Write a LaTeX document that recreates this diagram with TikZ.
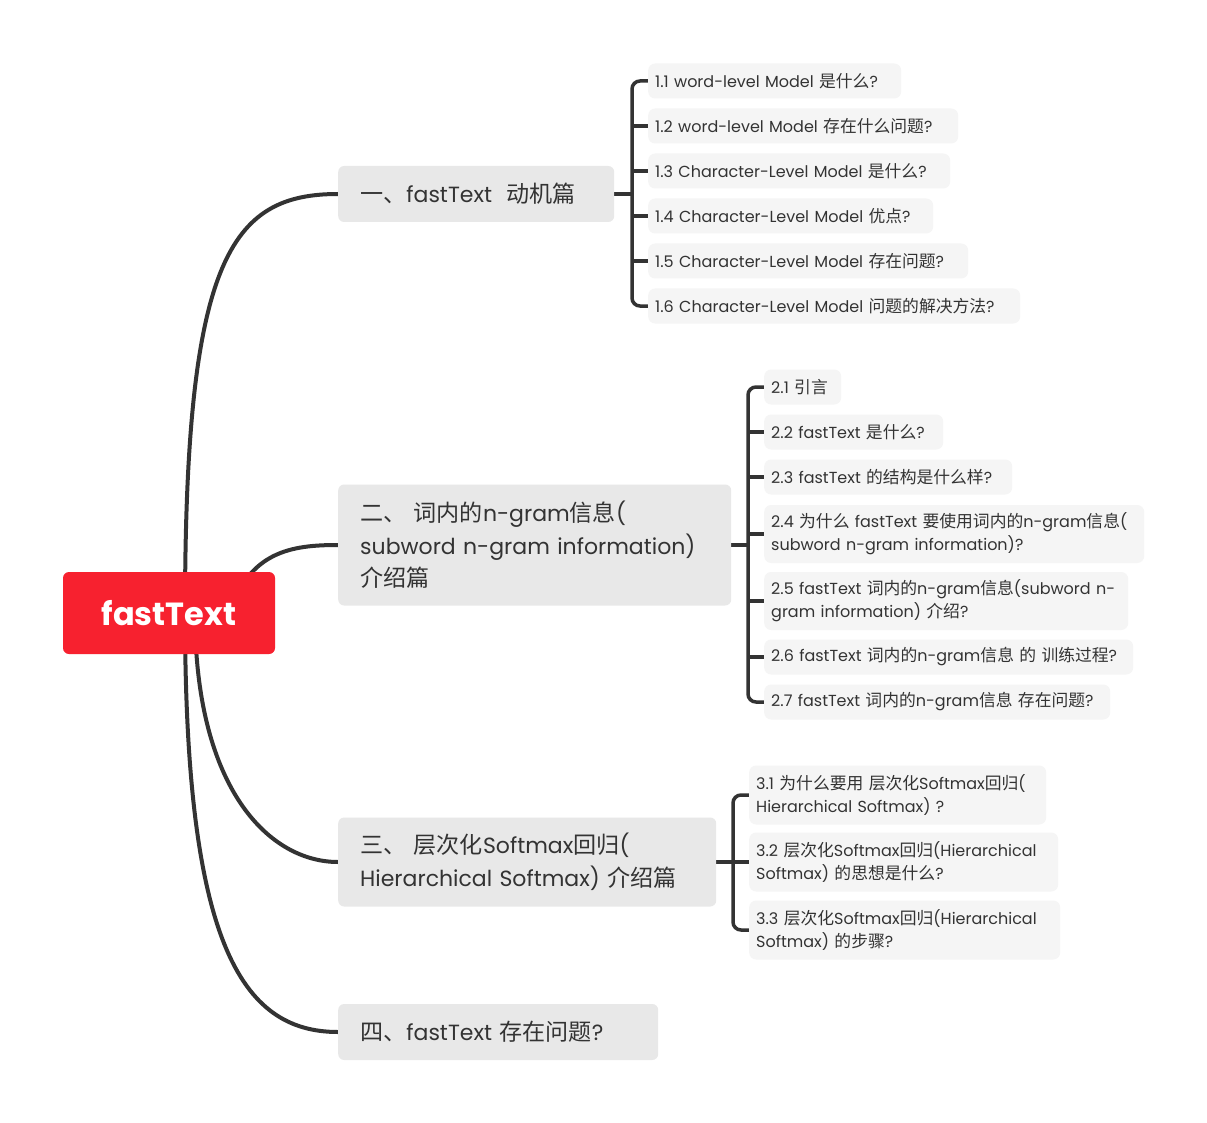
\documentclass[tikz,border=0pt]{standalone}
\usepackage{fontspec}
\setmainfont{Poppins}
\newfontfamily\zhfont[Scale=1.05]{Noto Sans CJK SC}
\newcommand{\zhs}[1]{{\zhfont #1}}
\usetikzlibrary{backgrounds}
\definecolor{rootred}{HTML}{F7212F}
\definecolor{ink}{HTML}{333333}
\definecolor{branchfill}{HTML}{E8E8E8}
\definecolor{leaffill}{HTML}{F5F5F5}
\definecolor{wirecol}{HTML}{333333}
\begin{document}
\begin{tikzpicture}[x=1pt,y=-1pt,
 rootbox/.style={fill=rootred, rounded corners=6pt, text=white, font=\fontsize{32}{38}\selectfont\bfseries, minimum width=212pt, minimum height=82pt, inner sep=0pt},
 branchbox/.style={fill=branchfill, rounded corners=6pt, text=ink, font=\fontsize{22}{32.5}\selectfont, align=left, anchor=west, inner xsep=22pt, inner ysep=0pt},
 leafbox/.style={fill=leaffill, rounded corners=7pt, text=ink, font=\fontsize{16}{23}\selectfont, align=left, anchor=west, inner xsep=7pt, inner ysep=0pt},
 wire/.style={draw=wirecol, line width=4pt},
 bracket/.style={draw=wirecol, line width=3.5pt, rounded corners=8pt},
 tick/.style={draw=wirecol, line width=3.5pt}
]
\useasboundingbox (0,0) rectangle (1207,1123);

% root
\node[rootbox] (root) at (169,613) {fastText};

% branches
\node[branchbox, text width=232pt, minimum height=56pt] (b1) at (338,194) {\mbox{\zhs{一、}fastText\ \ \zhs{动机篇}}};
\node[branchbox, text width=349pt, minimum height=121pt] (b2) at (338,545) {\mbox{\zhs{二、 词内的}n-gram\zhs{信息}(}\\\mbox{subword n-gram information)}\\\mbox{\zhs{介绍篇}}};
\node[branchbox, text width=334pt, minimum height=89pt] (b3) at (338,862) {\mbox{\zhs{三、 层次化}Softmax\zhs{回归}(}\\\mbox{Hierarchical Softmax) \zhs{介绍篇}}};
\node[branchbox, text width=276pt, minimum height=56pt] (b4) at (338,1032) {\mbox{\zhs{四、}fastText \zhs{存在问题}?}};

% leaves group 1
\node[leafbox, text width=239pt, minimum height=35pt] (l11) at (648,81) {\mbox{1.1 word-level Model \zhs{是什么}?}};
\node[leafbox, text width=296pt, minimum height=35pt] (l12) at (648,126) {\mbox{1.2 word-level Model \zhs{存在什么问题}?}};
\node[leafbox, text width=288pt, minimum height=35pt] (l13) at (648,171) {\mbox{1.3 Character-Level Model \zhs{是什么}?}};
\node[leafbox, text width=271pt, minimum height=35pt] (l14) at (648,216) {\mbox{1.4 Character-Level Model \zhs{优点}?}};
\node[leafbox, text width=306pt, minimum height=35pt] (l15) at (648,261) {\mbox{1.5 Character-Level Model \zhs{存在问题}?}};
\node[leafbox, text width=358pt, minimum height=35pt] (l16) at (648,306) {\mbox{1.6 Character-Level Model \zhs{问题的解决方法}?}};

% leaves group 2
\node[leafbox, text width=63pt, minimum height=35pt] (l21) at (764,387) {\mbox{2.1 \zhs{引言}}};
\node[leafbox, text width=165pt, minimum height=35pt] (l22) at (764,432) {\mbox{2.2 fastText \zhs{是什么}?}};
\node[leafbox, text width=234pt, minimum height=35pt] (l23) at (764,477) {\mbox{2.3 fastText \zhs{的结构是什么样}?}};
\node[leafbox, text width=366pt, minimum height=58pt] (l24) at (764,534) {\mbox{2.4 \zhs{为什么} fastText \zhs{要使用词内的}n-gram\zhs{信息}(}\\\mbox{subword n-gram information)?}};
\node[leafbox, text width=350pt, minimum height=58pt] (l25) at (764,601) {\mbox{2.5 fastText \zhs{词内的}n-gram\zhs{信息}(subword n-}\\\mbox{gram information) \zhs{介绍}?}};
\node[leafbox, text width=355pt, minimum height=35pt] (l26) at (764,657) {\mbox{2.6 fastText \zhs{词内的}n-gram\zhs{信息} \zhs{的} \zhs{训练过程}?}};
\node[leafbox, text width=332pt, minimum height=35pt] (l27) at (764,702) {\mbox{2.7 fastText \zhs{词内的}n-gram\zhs{信息} \zhs{存在问题}?}};

% leaves group 3
\node[leafbox, text width=283pt, minimum height=59pt] (l31) at (749,795) {\mbox{3.1 \zhs{为什么要用} \zhs{层次化}Softmax\zhs{回归}(}\\\mbox{Hierarchical Softmax) ?}};
\node[leafbox, text width=295pt, minimum height=59pt] (l32) at (749,862) {\mbox{3.2 \zhs{层次化}Softmax\zhs{回归}(Hierarchical}\\\mbox{Softmax) \zhs{的思想是什么}?}};
\node[leafbox, text width=297pt, minimum height=59pt] (l33) at (749,930) {\mbox{3.3 \zhs{层次化}Softmax\zhs{回归}(Hierarchical}\\\mbox{Softmax) \zhs{的步骤}?}};

% junctions
\coordinate (j1) at (632,194);
\coordinate (j2) at (748,545);
\coordinate (j3) at (733,862);

\begin{scope}[on background layer]
 \fill[white] (0,0) rectangle (1207,1123);
 % root to branches
 \draw[wire] ([xshift=16pt]root.center) .. controls (185,260) and (230,194) .. (b1.west);
 \draw[wire] ([xshift=60pt]root.center) .. controls (250,552) and (290,545) .. (b2.west);
 \draw[wire] ([xshift=26pt]root.center) .. controls (195,790) and (270,862) .. (b3.west);
 \draw[wire] ([xshift=16pt]root.center) .. controls (185,940) and (240,1032) .. (b4.west);
 % group 1
 \draw[wire] (b1.east) -- (j1);
 \draw[bracket] (l11.west) -| (j1) |- (l16.west);
 \foreach \n in {l12,l13,l14,l15} \draw[tick] (j1 |- \n.west) -- (\n.west);
 % group 2
 \draw[wire] (b2.east) -- (j2);
 \draw[bracket] (l21.west) -| (j2) |- (l27.west);
 \foreach \n in {l22,l23,l24,l25,l26} \draw[tick] (j2 |- \n.west) -- (\n.west);
 % group 3
 \draw[wire] (b3.east) -- (j3);
 \draw[bracket] (l31.west) -| (j3) |- (l33.west);
 \draw[tick] (j3) -- (l32.west);
\end{scope}
\end{tikzpicture}
\end{document}
